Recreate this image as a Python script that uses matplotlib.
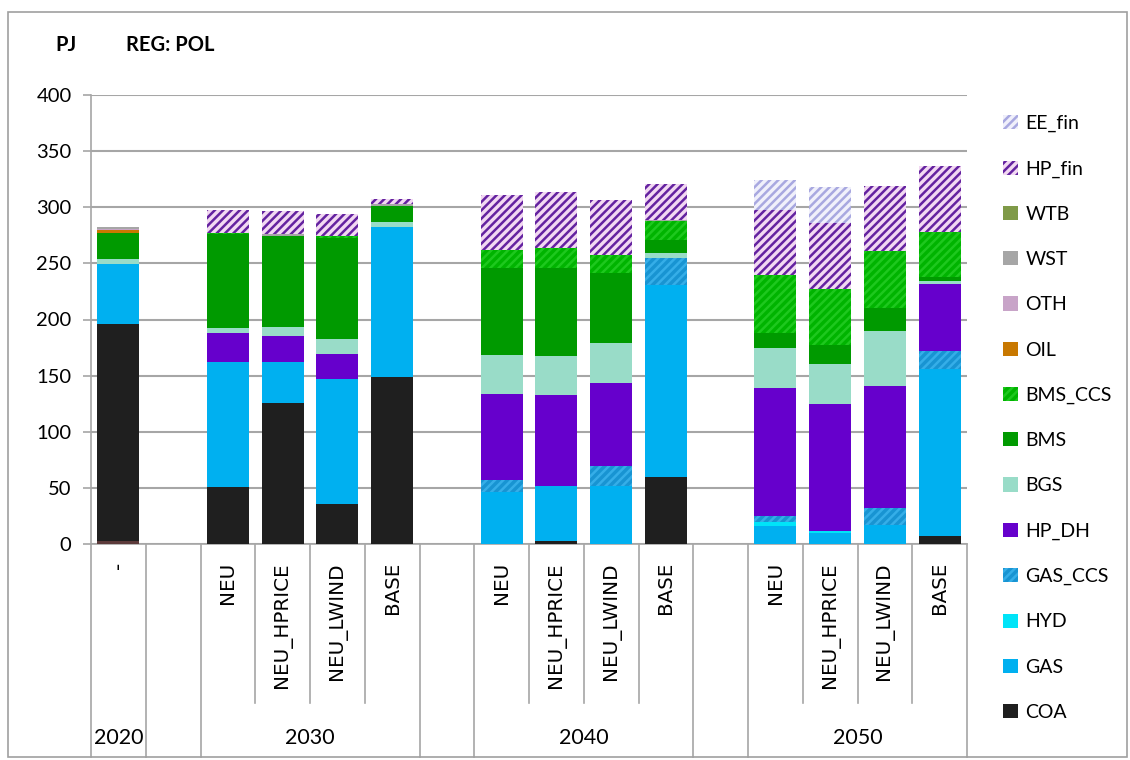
import matplotlib
matplotlib.use("Agg")
import matplotlib.pyplot as plt
from matplotlib.patches import Rectangle
from matplotlib.lines import Line2D
import numpy as np

plt.rcParams["hatch.linewidth"] = 1.8

# category slots (year group, scenario); blank slots separate the groups
scenarios = ["-", "", "NEU", "NEU_HPRICE", "NEU_LWIND", "BASE", "",
             "NEU", "NEU_HPRICE", "NEU_LWIND", "BASE", "",
             "NEU", "NEU_HPRICE", "NEU_LWIND", "BASE"]
years = ["2020", "", "2030", "", "2040", "", "2050"]
year_sizes = [1, 1, 4, 1, 4, 1, 4]

# values in PJ
base_other = [2.5, 0, 0, 0, 0, 0, 0, 0, 0, 0, 0, 0, 0, 0, 0, 0]
coa = [193.5, 0, 51.1, 125.6, 35.6, 148.5, 0, 0, 2.4, 0, 59.4, 0, 0, 0, 0, 6.8]
gas = [53.7, 0, 111.3, 36.8, 111.7, 134.3, 0, 46.6, 49.6, 52.0, 171.3, 0, 15.7, 9.5, 16.9, 149.1]
hyd = [0, 0, 0, 0, 0, 0, 0, 0, 0, 0, 0, 0, 3.6, 2.4, 0, 0]
gas_ccs = [0, 0, 0, 0, 0, 0, 0, 10.4, 0, 17.8, 24.3, 0, 5.6, 0, 15.2, 16.3]
hp_dh = [0, 0, 25.2, 22.6, 22.2, 0, 0, 76.9, 80.7, 73.9, 0, 0, 113.8, 112.5, 108.9, 59.1]
bgs = [3.9, 0, 4.8, 8.6, 13.4, 3.8, 0, 34.7, 34.8, 35.6, 3.9, 0, 35.6, 35.9, 49.0, 2.7]
bms = [23.7, 0, 84.1, 80.9, 89.8, 14.9, 0, 77.2, 78.3, 61.8, 11.9, 0, 13.3, 16.7, 19.9, 3.8]
bms_ccs = [0, 0, 0.8, 0, 1.8, 0, 0, 16.4, 17.6, 16.0, 16.6, 0, 52.0, 50.4, 51.4, 39.8]
oil = [2.0, 0, 0, 0, 0, 0, 0, 0, 0, 0, 0, 0, 0, 0, 0, 0]
oth = [1.0, 0, 0, 0, 0, 0, 0, 0, 0, 0, 0, 0, 0, 0, 0, 0]
wst = [2.5, 0, 0, 1.5, 0, 1.5, 0, 0, 0, 0, 1.0, 0, 0, 0, 0, 0]
wtb = [0, 0, 0, 0, 0, 0, 0, 0, 0, 0, 0, 0, 0, 0, 0, 0]
hp_fin = [0, 0, 20.6, 20.7, 19.9, 4.4, 0, 49.0, 50.1, 49.3, 32.3, 0, 58.2, 58.5, 57.9, 58.8]
ee_fin = [0, 0, 0, 0, 0, 0, 0, 0, 0, 0, 0, 0, 26.4, 32.1, 0, 0]

# (label, values, face colour, hatch colour, hatch)
series = [
    ("_other", base_other, "#5c3a3a", "#5c3a3a", None),
    ("COA", coa, "#1f1f1f", "#1f1f1f", None),
    ("GAS", gas, "#00b0f0", "#00b0f0", None),
    ("HYD", hyd, "#00e4f8", "#00e4f8", None),
    ("GAS_CCS", gas_ccs, "#1894d2", "#35aee8", "////"),
    ("HP_DH", hp_dh, "#6600cc", "#6600cc", None),
    ("BGS", bgs, "#99dcc8", "#99dcc8", None),
    ("BMS", bms, "#009a00", "#009a00", None),
    ("BMS_CCS", bms_ccs, "#00b400", "#1ec81e", "////"),
    ("OIL", oil, "#c87800", "#c87800", None),
    ("OTH", oth, "#c8a4c8", "#c8a4c8", None),
    ("WST", wst, "#a6a6a6", "#a6a6a6", None),
    ("WTB", wtb, "#7f9a48", "#7f9a48", None),
    ("HP_fin", hp_fin, "#f2d8f2", "#6422a0", "////"),
    ("EE_fin", ee_fin, "#f0f0fb", "#a8a8e0", "////"),
]

fig = plt.figure(figsize=(11.3, 7.6), dpi=100)
ax = fig.add_axes([91 / 1130, 1 - 544 / 760, (967 - 91) / 1130, (544 - 95) / 760])

x = np.arange(len(scenarios)) + 0.5
bottom = np.zeros(len(scenarios))
handles = []
for label, vals, fc, hc, hatch in series:
    vals = np.array(vals, dtype=float)
    b = ax.bar(x, vals, width=0.77, bottom=bottom, color=fc, edgecolor=hc,
               linewidth=0, hatch=hatch, label=label, zorder=3)
    if not label.startswith("_"):
        handles.append(b)
    bottom += vals

ax.set_xlim(0, len(scenarios))
ax.set_ylim(0, 400)
ax.set_yticks(np.arange(0, 401, 50))
ax.yaxis.grid(True, color="#a6a6a6", linewidth=1.5, zorder=0)
ax.set_axisbelow(True)
for s in ["top", "right"]:
    ax.spines[s].set_visible(False)
ax.spines["left"].set_color("#a6a6a6")
ax.spines["bottom"].set_color("#a6a6a6")
ax.spines["left"].set_linewidth(1.2)
ax.spines["bottom"].set_linewidth(1.2)
ax.tick_params(axis="y", length=6, color="#a6a6a6", width=1.2, pad=8)
for t in ax.get_yticklabels():
    t.set_fontfamily("Lato")
    t.set_fontsize(14.5)

ax.set_xticks(x)
ax.set_xticklabels(scenarios, rotation=90, va="top", ha="center",
                   fontfamily="DejaVu Sans", fontsize=14.3)
ax.tick_params(axis="x", length=0, pad=13)

# separator lines under the axis
trans = ax.get_xaxis_transform()
group_edges = np.concatenate([[0], np.cumsum(year_sizes)])
for e in range(len(scenarios) + 1):
    y_end = -0.475 if e in group_edges else -0.354
    ax.add_line(Line2D([e, e], [0, y_end], transform=trans, color="#a6a6a6",
                       linewidth=1.2, clip_on=False))
for i, yr in enumerate(years):
    if yr:
        cx = (group_edges[i] + group_edges[i + 1]) / 2
        ax.text(cx, -0.432, yr, transform=trans, ha="center", va="center",
                fontfamily="Lato", fontsize=15.5)

fig.text(55 / 1130, 1 - 45 / 760, "PJ", fontfamily="Lato", fontweight="bold",
         fontsize=14.5, va="center", ha="left")
fig.text(126 / 1130, 1 - 45 / 760, "REG: POL", fontfamily="Lato",
         fontweight="bold", fontsize=14.5, va="center", ha="left")

fig.legend(handles[::-1], [h.get_label() for h in handles[::-1]],
           loc="upper left", bbox_to_anchor=(1003 / 1130, 1 - 115 / 760),
           frameon=False, borderaxespad=0, borderpad=0,
           prop={"family": "Lato", "size": 14}, labelspacing=1.45,
           handlelength=0.75, handleheight=0.75, handletextpad=0.4)

fig.patches.append(Rectangle((8 / 1130, 3 / 760), 1119 / 1130, 745 / 760,
                             transform=fig.transFigure, fill=False,
                             edgecolor="#a0a0a0", linewidth=1.2))

fig.savefig("out.png", dpi=100)
